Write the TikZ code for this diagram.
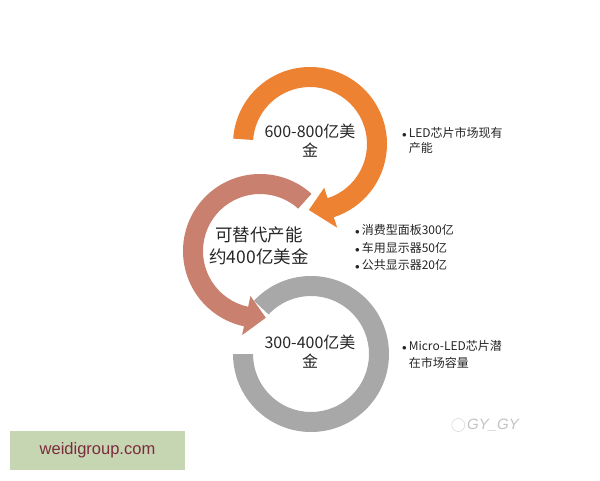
\documentclass[tikz,border=0pt]{standalone}
\usepackage{fontspec}
\setmainfont{Noto Sans CJK SC}
\newfontfamily\webfont{Liberation Sans}
\usepackage{tikz}
\usetikzlibrary{positioning}
\definecolor{naranja}{HTML}{EE8233}
\definecolor{rosa}{HTML}{C9806F}
\definecolor{gris}{HTML}{A8A8A8}
\definecolor{verdesello}{HTML}{C6D5B2}
\definecolor{granate}{HTML}{7B2C3C}
\newcommand{\punto}{{\fontsize{9}{9}\selectfont$\bullet$}}
\tikzstyle{cifra} = [align=center, font=\fontsize{16}{19}\selectfont, text=black!85]
\tikzstyle{cifragrande} = [cifra, font=\fontsize{17.5}{22}\selectfont]
\tikzstyle{nota} = [anchor=base west, inner sep=0pt, font=\fontsize{12}{14}\selectfont, text=black!85]
\tikzstyle{sello} = [fill=verdesello, text=granate, minimum width=175pt, minimum height=39pt, font=\webfont\fontsize{16.5}{18}\selectfont]
\tikzstyle{marca} = [text=gris!70, font=\webfont\itshape\fontsize{15}{15}\selectfont, inner sep=0pt]
\tikzstyle{icono} = [draw=gris!60, circle, minimum size=13pt, inner sep=0pt]

\begin{document}
\begin{tikzpicture}[x=1pt,y=1pt]
	\useasboundingbox (0,0) rectangle (600,480);
	\coordinate (cn) at (310,336);
	\coordinate (cr) at (260,229);
	\coordinate (cg) at (311,126);
	\fill[gris, shift={(cg)}] (137:78) arc[start angle=137, end angle=-180, radius=78] -- (-180:58) arc[start angle=-180, end angle=137, radius=58] -- cycle;
	\fill[rosa, shift={(cr)}] (48:77) arc[start angle=48, end angle=258, radius=77] -- (258:86) -- (275:67) -- (258:46) -- (258:57) arc[start angle=258, end angle=48, radius=57] -- cycle;
	\fill[naranja, shift={(cn)}] (176:77) arc[start angle=176, end angle=-72, radius=77] -- (-72:88) -- (-91:66) -- (-72:46) -- (-72:57) arc[start angle=-72, end angle=176, radius=57] -- cycle;
	\node[cifra] (arriba) at (310,339) {600-800亿美\\金};
	\node[cifragrande] (medio) at (259,234) {可替代产能\\约400亿美金};
	\node[cifra] (abajo) at (310,128) {300-400亿美\\金};
	\node[nota] (notaarriba) at (402,342) {\begin{tabular}[t]{@{}l@{\hspace{2pt}}l@{}}\punto & LED芯片市场现有\\ & 产能\end{tabular}};
	\node[nota] (notamedio) at (355,245) {\begin{tabular}[t]{@{}l@{\hspace{2pt}}l@{}}\punto & 消费型面板300亿\\[3pt] \punto & 车用显示器50亿\\[3pt] \punto & 公共显示器20亿\end{tabular}};
	\node[nota] (notaabajo) at (402,130) {\begin{tabular}[t]{@{}l@{\hspace{2pt}}l@{}}\punto & Micro-LED芯片潜\\[3pt] & 在市场容量\end{tabular}};
	\node[marca] (firma) at (493,55) {GY\_GY};
	\node[icono, left=2pt of firma] (logo) {};
	\node[sello] (web) at (97.5,29.5) {weidigroup.com};
\end{tikzpicture}
\end{document}
